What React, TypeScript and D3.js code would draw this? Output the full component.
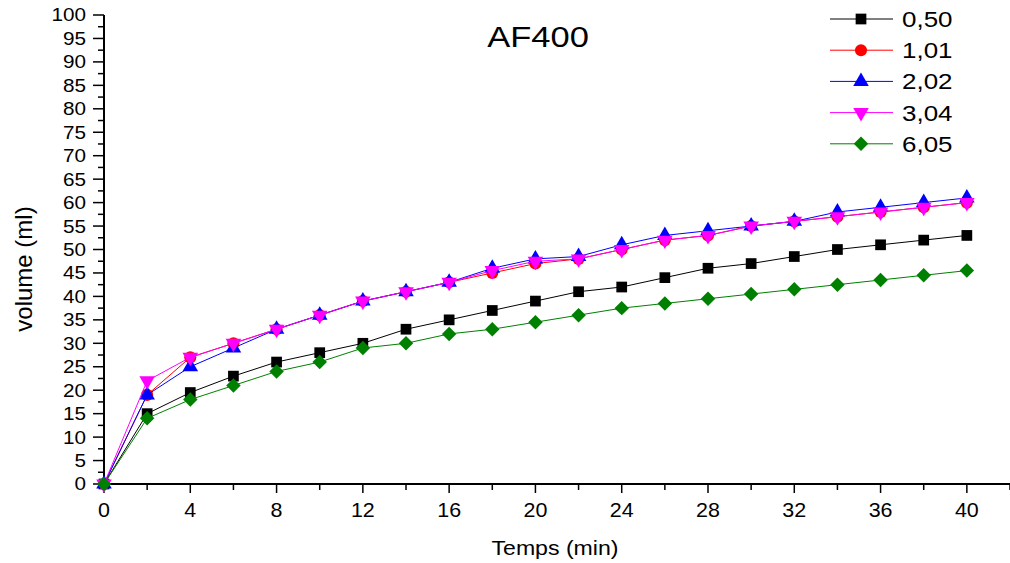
import React from 'react'
import * as d3 from 'd3'

const times = [0, 2, 4, 6, 8, 10, 12, 14, 16, 18, 20, 22, 24, 26, 28, 30, 32, 34, 36, 38, 40]

const s050 = [0, 15, 19.5, 23, 26, 28, 30, 33, 35, 37, 39, 41, 42, 44, 46, 47, 48.5, 50, 51, 52, 53]
const s101 = [0, 19, 27, 30, 33, 36, 39, 41, 43, 45, 47, 48, 50, 52, 53, 55, 56, 57, 58, 59, 60]
const s202 = [0, 19, 25, 29, 33, 36, 39, 41, 43, 46, 48, 48.5, 51, 53, 54, 55, 56, 58, 59, 60, 61]
const s304 = [0, 22, 27, 30, 33, 36, 39, 41, 43, 45.5, 47.5, 48, 50, 52, 53, 55, 56, 57, 58, 59, 60]
const s605 = [0, 14, 18, 21, 24, 26, 29, 30, 32, 33, 34.5, 36, 37.5, 38.5, 39.5, 40.5, 41.5, 42.5, 43.5, 44.5, 45.5]

const seriesNames = ['0,50', '1,01', '2,02', '3,04', '6,05']
const seriesValues = [s050, s101, s202, s304, s605]
const seriesColors = ['#000000', '#ff0000', '#0000ff', '#ff00ff', '#008000']
const seriesSymbols = [d3.symbolSquare, d3.symbolCircle, d3.symbolTriangle, d3.symbolTriangle, d3.symbolSquare]
// down triangle = triangle turned 180, diamond = square turned 45
const seriesRotate = [0, 0, 0, 180, 45]
const symbolSizes = [115, 115, 105, 105, 105]

const xTicks = d3.range(0, 41, 4)
const yTicks = d3.range(0, 101, 5)

const W = 1010, H = 563
const left = 104, right = 1010, top = 15, bottom = 484
const font = '"Liberation Sans", Arial, sans-serif'

// the source picture is a bit stretched sideways, so text gets a small x scale
function Txt({ x, y, size, sx = 1.12, anchor = 'start', dy = '0', children }: any) {
  return (
    <text transform={`translate(${x},${y}) scale(${sx},1)`} dy={dy} textAnchor={anchor}
      fontFamily={font} fontSize={size} fill="#000">{children}</text>
  )
}

export default function App() {
  const x = d3.scaleLinear().domain([0, 42]).range([left, right])
  const y = d3.scaleLinear().domain([0, 100]).range([bottom, top])
  const line = d3.line<number>().x((d, i) => x(times[i])).y(d => y(d))

  const legendX = 830, legendY = 19, legendStep = 31.2

  return (
    <svg width={W} height={H} style={{ position: 'absolute', left: 0, top: 0, background: '#fff' }}>
      {/* y axis */}
      <line x1={left} x2={left} y1={top} y2={bottom + 3} stroke="#000" strokeWidth={2} />
      {d3.range(0, 100.1, 2.5).map(v => (
        <line key={'yt' + v} x1={left - (v % 5 === 0 ? 11 : 6)} x2={left} y1={y(v)} y2={y(v)} stroke="#000" strokeWidth={1.5} />
      ))}
      {yTicks.map(v => (
        <Txt key={'yl' + v} x={86} y={y(v)} dy="0.36em" anchor="end" size={18} sx={1.15}>{v}</Txt>
      ))}
      {/* x axis */}
      <line x1={left} x2={right} y1={bottom} y2={bottom} stroke="#000" strokeWidth={2} />
      {d3.range(0, 43, 2).map(v => (
        <line key={'xt' + v} x1={x(v)} x2={x(v)} y1={bottom} y2={bottom + (v % 4 === 0 ? 9 : 6)} stroke="#000" strokeWidth={1.5} />
      ))}
      {xTicks.map(v => (
        <Txt key={'xl' + v} x={x(v)} y={517} anchor="middle" size={19.5} sx={1.1}>{v}</Txt>
      ))}
      <Txt x={555} y={555} anchor="middle" size={21} sx={1.1}>Temps (min)</Txt>
      <text transform={`translate(32,269) rotate(-90)`} textAnchor="middle" fontFamily={font} fontSize={24}>volume (ml)</text>
      <Txt x={538} y={47} anchor="middle" size={30} sx={1.15}>AF400</Txt>

      {seriesValues.map((vals, si) => (
        <g key={'s' + si}>
          <path d={line(vals) || ''} fill="none" stroke={seriesColors[si]} strokeWidth={1} />
          {vals.map((v, i) => (
            <path key={i} d={d3.symbol().type(seriesSymbols[si]).size(symbolSizes[si])() || ''}
              transform={`translate(${x(times[i])},${y(v)}) rotate(${seriesRotate[si]})`}
              fill={seriesColors[si]} />
          ))}
        </g>
      ))}

      {seriesNames.map((name, si) => (
        <g key={'lg' + si} transform={`translate(${legendX},${legendY + si * legendStep})`}>
          <line x1={0} x2={63} y1={0} y2={0} stroke={seriesColors[si]} strokeWidth={1} />
          <path d={d3.symbol().type(seriesSymbols[si]).size(symbolSizes[si])() || ''}
            transform={`translate(31,0) rotate(${seriesRotate[si]})`} fill={seriesColors[si]} />
          <Txt x={72} y={0} dy="0.36em" size={22} sx={1.18}>{name}</Txt>
        </g>
      ))}
    </svg>
  )
}
